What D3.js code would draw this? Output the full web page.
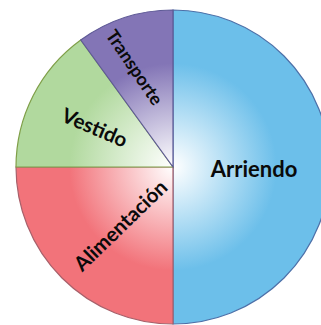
<!DOCTYPE html>
<html>
<head>
<meta charset="utf-8">
<script src="https://cdn.jsdelivr.net/npm/d3@7"></script>
<style>
  body { margin: 0; background: #fff; }
  svg { display: block; }
</style>
</head>
<body>
<svg id="pie"></svg>
<script>
// Gastos del hogar
const categories = ["Arriendo", "Alimentación", "Vestido", "Transporte"];
const values = [50, 25, 15, 10];
const colors = ["#6cbfea", "#f2737a", "#b1d99e", "#8375b6"];
const borders = ["#4d70a8", "#a8606a", "#7f9f48", "#5e5a96"];

const width = 321, height = 325;
const cx = 173, cy = 167, radius = 157;

const svg = d3.select("#pie")
  .attr("width", width)
  .attr("height", height);

const defs = svg.append("defs");
colors.forEach((c, i) => {
  const g = defs.append("radialGradient")
    .attr("id", "grad" + i)
    .attr("gradientUnits", "userSpaceOnUse")
    .attr("cx", 0).attr("cy", 0).attr("r", radius);
  g.append("stop").attr("offset", 0).attr("stop-color", "#ffffff");
  g.append("stop").attr("offset", 0.66).attr("stop-color", c);
  g.append("stop").attr("offset", 1).attr("stop-color", c);
});

const chart = svg.append("g")
  .attr("transform", `translate(${cx}, ${cy})`);

const pie = d3.pie().sort(null).value(d => d);
const arcs = pie(values);
const arc = d3.arc().innerRadius(0).outerRadius(radius);

chart.selectAll(".slice")
  .data(arcs)
  .enter().append("path")
  .attr("class", "slice")
  .attr("d", arc)
  .attr("fill", (d, i) => `url(#grad${i})`)
  .attr("stroke", (d, i) => borders[i])
  .attr("stroke-width", 1.2);

// label placement: offset from centre, rotation, font size
const labelPos = [
  { x: 81, y: 1, rot: 0, size: 22 },
  { x: -53, y: 58, rot: -44, size: 20.5 },
  { x: -78, y: -40, rot: 23, size: 20.5 },
  { x: -38, y: -100, rot: 56, size: 18 }
];

chart.selectAll(".label")
  .data(categories)
  .enter().append("text")
  .attr("class", "label")
  .attr("transform", (d, i) => `translate(${labelPos[i].x}, ${labelPos[i].y}) rotate(${labelPos[i].rot})`)
  .attr("text-anchor", "middle")
  .attr("dominant-baseline", "central")
  .attr("font-family", "Lato, 'Open Sans', sans-serif")
  .attr("font-weight", "bold")
  .attr("font-size", (d, i) => labelPos[i].size)
  .attr("fill", "#0a0a0a")
  .text(d => d);
</script>
</body>
</html>
